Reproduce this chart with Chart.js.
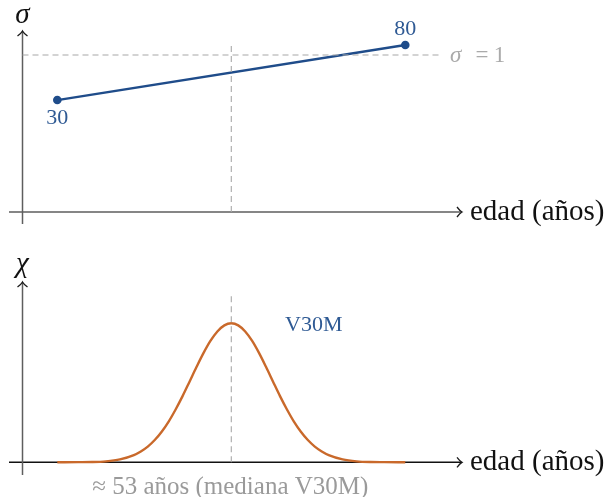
<!DOCTYPE html>
<html>
<head>
<meta charset="utf-8">
<script src="https://cdn.jsdelivr.net/npm/chart.js@4.4.0/dist/chart.umd.min.js"></script>
<style>
  html, body { margin: 0; padding: 0; background: #fff; }
  .panel { position: absolute; left: 0; width: 606px; }
  #top { top: 0; height: 250px; }
  #bottom { top: 250px; height: 247px; }
</style>
</head>
<body>
<div class="panel" id="top"><canvas id="sigmaChart"></canvas></div>
<div class="panel" id="bottom"><canvas id="chiChart"></canvas></div>
<script>
// ages where sigma was measured and the sigma values (sigma = 1 is the reference)
const sigmaAges = [30, 80];
const sigmaValues = [0.713, 1.064];
const sigmaRef = 1;

// median age line (drawn at the middle of the age span)
const medianAge = 55;

// chi distribution (peak normalised to 1)
const chiAges = [30, 33, 35, 37, 39, 41, 42, 43, 44, 45, 46, 47, 48, 49, 50, 51, 52, 53, 54, 55,
                 56, 57, 58, 59, 60, 61, 62, 63, 64, 65, 66, 67, 68, 69, 71, 73, 75, 77, 80];
const chiValues = [0, 0.001, 0.002, 0.007, 0.021, 0.052, 0.078, 0.113, 0.160, 0.220, 0.293, 0.380, 0.476, 0.580, 0.685, 0.785, 0.873, 0.941, 0.985, 1,
                   0.985, 0.941, 0.873, 0.785, 0.685, 0.580, 0.476, 0.380, 0.293, 0.220, 0.160, 0.113, 0.078, 0.052, 0.021, 0.007, 0.002, 0.001, 0];

const blue = "#1f4c8a";
const blueText = "#2f5a94";
const orange = "#c9692b";
const dashGray = "#a8a8a8";
const serif = "'Liberation Serif', 'DejaVu Serif', serif";

// x range shared by both panels
const ageMin = 23.06;
const ageMax = 88.15;
const axisAge = 25; // where the vertical axis crosses

function arrowHead(ctx, x, y, dir, color) {
    // small open TikZ style arrow tip
    ctx.save();
    ctx.strokeStyle = color;
    ctx.lineWidth = 1.3;
    ctx.beginPath();
    if (dir === "right") {
        ctx.moveTo(x - 5, y - 5);
        ctx.quadraticCurveTo(x - 2, y - 1, x, y);
        ctx.quadraticCurveTo(x - 2, y + 1, x - 5, y + 5);
    } else {
        ctx.moveTo(x - 5, y + 5);
        ctx.quadraticCurveTo(x - 1, y + 2, x, y);
        ctx.quadraticCurveTo(x + 1, y + 2, x + 5, y + 5);
    }
    ctx.stroke();
    ctx.restore();
}

function text(ctx, str, x, y, font, color, align) {
    ctx.save();
    ctx.font = font;
    ctx.fillStyle = color;
    ctx.textAlign = align || "center";
    ctx.textBaseline = "middle";
    ctx.fillText(str, x, y);
    ctx.restore();
}

// draws the axes with arrows under the data
function axesPlugin(opts) {
    return {
        id: "axes",
        beforeDatasetsDraw(chart) {
            const ctx = chart.ctx;
            const a = chart.chartArea;
            const xs = chart.scales.x, ys = chart.scales.y;
            const y0 = ys.getPixelForValue(0);
            const x0 = xs.getPixelForValue(axisAge);
            ctx.save();
            ctx.lineWidth = 1.5;
            ctx.strokeStyle = opts.xColor;
            ctx.beginPath();
            ctx.moveTo(a.left, y0);
            ctx.lineTo(a.right - 1, y0);
            ctx.stroke();
            ctx.strokeStyle = "#5e5e5e";
            ctx.beginPath();
            ctx.moveTo(x0, a.bottom);
            ctx.lineTo(x0, a.top + 1);
            ctx.stroke();
            ctx.restore();
            arrowHead(ctx, a.right, y0, "right", "#1a1a1a");
            arrowHead(ctx, x0, a.top, "up", "#1a1a1a");
            text(ctx, "edad (años)", a.right + 8, y0, "29px " + serif, "#111", "left");
            text(ctx, opts.yLabel, x0, a.top - opts.yLabelGap, "italic 29px " + serif, "#111");
        }
    };
}

const topLabels = {
    id: "topLabels",
    afterDraw(chart) {
        const ctx = chart.ctx;
        const xs = chart.scales.x, ys = chart.scales.y;
        text(ctx, "30", xs.getPixelForValue(sigmaAges[0]), ys.getPixelForValue(sigmaValues[0]) + 18, "22px " + serif, blueText);
        text(ctx, "80", xs.getPixelForValue(sigmaAges[1]), ys.getPixelForValue(sigmaValues[1]) - 16, "22px " + serif, blueText);
        // "σ = 1" with math-style spacing
        const ry = ys.getPixelForValue(sigmaRef) + 1;
        text(ctx, "σ", 450, ry, "italic 23px " + serif, "#aaaaaa", "left");
        text(ctx, "=", 482, ry, "23px " + serif, "#aaaaaa");
        text(ctx, "1", 499.5, ry, "23px " + serif, "#aaaaaa");
    }
};

const bottomLabels = {
    id: "bottomLabels",
    afterDraw(chart) {
        const ctx = chart.ctx;
        const xs = chart.scales.x, ys = chart.scales.y;
        text(ctx, "V30M", 285, ys.getPixelForValue(1) + 2, "22px " + serif, blueText, "left");
        text(ctx, "≈ 53 años (mediana V30M)", xs.getPixelForValue(medianAge) - 1, ys.getPixelForValue(0) + 25, "25px " + serif, "#9a9a9a");
    }
};

function baseOptions(yMin, yMax, pad) {
    return {
        responsive: false,
        animation: false,
        layout: { padding: pad },
        plugins: { legend: { display: false }, tooltip: { enabled: false } },
        scales: {
            x: { type: "linear", min: ageMin, max: ageMax, display: false },
            y: { type: "linear", min: yMin, max: yMax, display: false }
        }
    };
}

function makeCanvas(id, w, h) {
    const c = document.getElementById(id);
    c.width = w;
    c.height = h;
    return c.getContext("2d");
}

// top panel: sigma vs age
new Chart(makeCanvas("sigmaChart", 606, 250), {
    type: "line",
    data: {
        datasets: [
            {
                data: [{ x: axisAge, y: sigmaRef }, { x: 85.2, y: sigmaRef }],
                borderColor: dashGray, borderWidth: 1.1, borderDash: [6, 4], pointRadius: 0
            },
            {
                data: [{ x: medianAge, y: 0 }, { x: medianAge, y: 1.065 }],
                borderColor: dashGray, borderWidth: 1.1, borderDash: [6, 4], pointRadius: 0
            },
            {
                data: sigmaAges.map((a, i) => ({ x: a, y: sigmaValues[i] })),
                borderColor: blue, borderWidth: 2.4,
                pointRadius: 4.3, pointBackgroundColor: blue, pointBorderWidth: 0,
                clip: false
            }
        ]
    },
    options: baseOptions(-0.0764, 1.1529, { left: 9, right: 144, top: 31, bottom: 26 }),
    plugins: [axesPlugin({ xColor: "#5e5e5e", yLabel: "σ", yLabelGap: 16 }), topLabels]
});

// bottom panel: chi distribution of the median age
new Chart(makeCanvas("chiChart", 606, 247), {
    type: "line",
    data: {
        datasets: [
            {
                data: [{ x: medianAge, y: 0 }, { x: medianAge, y: 1.204 }],
                borderColor: dashGray, borderWidth: 1.1, borderDash: [6, 4], pointRadius: 0
            },
            {
                data: chiAges.map((a, i) => ({ x: a, y: chiValues[i] })),
                borderColor: orange, borderWidth: 2.4, pointRadius: 0,
                cubicInterpolationMode: "monotone", clip: false
            }
        ]
    },
    options: baseOptions(-0.0914, 1.297, { left: 9, right: 144, top: 32, bottom: 22 }),
    plugins: [axesPlugin({ xColor: "#111111", yLabel: "χ", yLabelGap: 18 }), bottomLabels]
});
</script>
</body>
</html>
